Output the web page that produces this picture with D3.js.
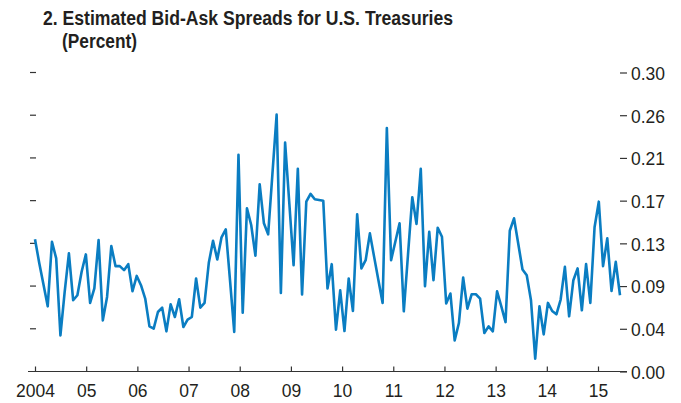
<!DOCTYPE html>
<html lang="en">
<head>
<meta charset="utf-8">
<title>Bid-Ask Spreads</title>
<script src="https://d3js.org/d3.v7.min.js"></script>
<style>
  body { margin: 0; background: #fff; }
  text { font-family: "Liberation Sans", Arial, sans-serif; }
</style>
</head>
<body>
<div id="chart"></div>
<script>
// monthly estimated bid-ask spreads, percent, Jan 2004 onward
var spreads = [
  0.1326, 0.1089, 0.0873, 0.0654, 0.1302, 0.1135, 0.0362, 0.0798, 0.1185, 0.0715, 0.0765, 0.1001,
  0.1175, 0.0688, 0.0833, 0.1319, 0.0513, 0.0748, 0.1258, 0.1057, 0.1057, 0.1017, 0.1077, 0.0805,
  0.0959, 0.0866, 0.0732, 0.0453, 0.0430, 0.0597, 0.0641, 0.0403, 0.0674, 0.0547, 0.0725, 0.0446,
  0.0520, 0.0547, 0.0933, 0.0641, 0.0688, 0.1090, 0.1312, 0.1124, 0.1346, 0.1426, 0.0916, 0.0398,
  0.2174, 0.0591, 0.1638, 0.1470, 0.1161, 0.1879, 0.1487, 0.1376, 0.1977, 0.2577, 0.0788, 0.2298,
  0.1683, 0.1067, 0.2034, 0.0772, 0.1704, 0.1782, 0.1728, 0.1721, 0.1714, 0.0833, 0.1077, 0.0420,
  0.0815, 0.0406, 0.0933, 0.0607, 0.1577, 0.1034, 0.1117, 0.1386, 0.1150, 0.0919, 0.0688, 0.2443,
  0.1117, 0.1302, 0.1487, 0.0604, 0.1178, 0.1749, 0.1480, 0.2034, 0.0856, 0.1402, 0.0916, 0.1443,
  0.1352, 0.0682, 0.0782, 0.0312, 0.0486, 0.0943, 0.0631, 0.0775, 0.0775, 0.0732, 0.0386, 0.0453,
  0.0403, 0.0805, 0.0654, 0.0496, 0.1412, 0.1537, 0.1281, 0.1024, 0.0966, 0.0715, 0.0128, 0.0654,
  0.0372, 0.0688, 0.0607, 0.0574, 0.0722, 0.1050, 0.0554, 0.0916, 0.1034, 0.0614, 0.1077, 0.0688,
  0.1447, 0.1704, 0.1057, 0.1336, 0.0808, 0.1100, 0.0765
];

var years = [2004, 2005, 2006, 2007, 2008, 2009, 2010, 2011, 2012, 2013, 2014, 2015];
var yearLabels = ["2004", "05", "06", "07", "08", "09", "10", "11", "12", "13", "14", "15"];
var yTicks = [0, 0.3 / 7, 0.6 / 7, 0.9 / 7, 1.2 / 7, 1.5 / 7, 1.8 / 7, 0.3];

var W = 681, H = 403;
var svg = d3.select("#chart").append("svg")
  .attr("width", W)
  .attr("height", H);

// year axis and data index share the same horizontal span
var xYear = d3.scaleLinear().domain([2004, 2015]).range([35, 598]);
var xIdx = d3.scaleLinear()
  .domain([0, spreads.length - 1])
  .range([35, 620]);

var y = d3.scaleLinear().domain([0, 0.3]).range([371.5, 72.5]);

// squeeze text horizontally to mimic the condensed face of the original
function condense(sel, k) {
  sel.each(function() {
    var w = this.getComputedTextLength();
    d3.select(this)
      .attr("textLength", w * k)
      .attr("lengthAdjust", "spacingAndGlyphs");
  });
}

// title
svg.append("text")
  .attr("x", 43).attr("y", 25)
  .style("font-size", "20px").style("font-weight", "bold")
  .attr("fill", "#231f20")
  .attr("textLength", 410).attr("lengthAdjust", "spacingAndGlyphs")
  .text("2. Estimated Bid-Ask Spreads for U.S. Treasuries");
svg.append("text")
  .attr("x", 62).attr("y", 48)
  .style("font-size", "20px").style("font-weight", "bold")
  .attr("fill", "#231f20")
  .attr("textLength", 75).attr("lengthAdjust", "spacingAndGlyphs")
  .text("(Percent)");

// left ticks, no labels
svg.append("g")
  .selectAll("line")
  .data(yTicks.slice(1))
  .enter().append("line")
  .attr("x1", 30).attr("x2", 36)
  .attr("y1", function(d) { return y(d); })
  .attr("y2", function(d) { return y(d); })
  .attr("stroke", "#333").attr("stroke-width", 1.2);

// right axis
var right = svg.append("g").attr("transform", "translate(620,0)")
  .call(d3.axisRight(y).tickValues(yTicks).tickSize(7).tickPadding(4)
    .tickFormat(d3.format(".2f")));
right.select(".domain").remove();
right.selectAll("line").attr("stroke", "#333").attr("stroke-width", 1.2);
right.selectAll("text")
  .style("font-size", "19px").attr("fill", "#231f20")
  .attr("font-family", null)
  .attr("dy", "0.36em")
  .call(condense, 0.92);

// bottom axis
svg.append("line")
  .attr("x1", 28).attr("x2", 627)
  .attr("y1", y(0)).attr("y2", y(0))
  .attr("stroke", "#333").attr("stroke-width", 1.2);

var bottom = svg.append("g").attr("transform", "translate(0," + y(0) + ")")
  .call(d3.axisBottom(xYear).tickValues(years).tickSize(-5).tickPadding(12)
    .tickFormat(function(d, i) { return yearLabels[i]; }));
bottom.select(".domain").remove();
bottom.selectAll("line").attr("stroke", "#333").attr("stroke-width", 1.2);
bottom.selectAll("text")
  .style("font-size", "19px").attr("fill", "#231f20")
  .attr("font-family", null)
  .call(condense, 0.92);

// spread line
var line = d3.line()
  .x(function(d, i) { return xIdx(i); })
  .y(function(d) { return y(d); });

svg.append("path")
  .datum(spreads)
  .attr("d", line)
  .attr("fill", "none")
  .attr("stroke", "#0a7dc2")
  .attr("stroke-width", 2.6)
  .attr("stroke-linejoin", "round");
</script>
</body>
</html>
